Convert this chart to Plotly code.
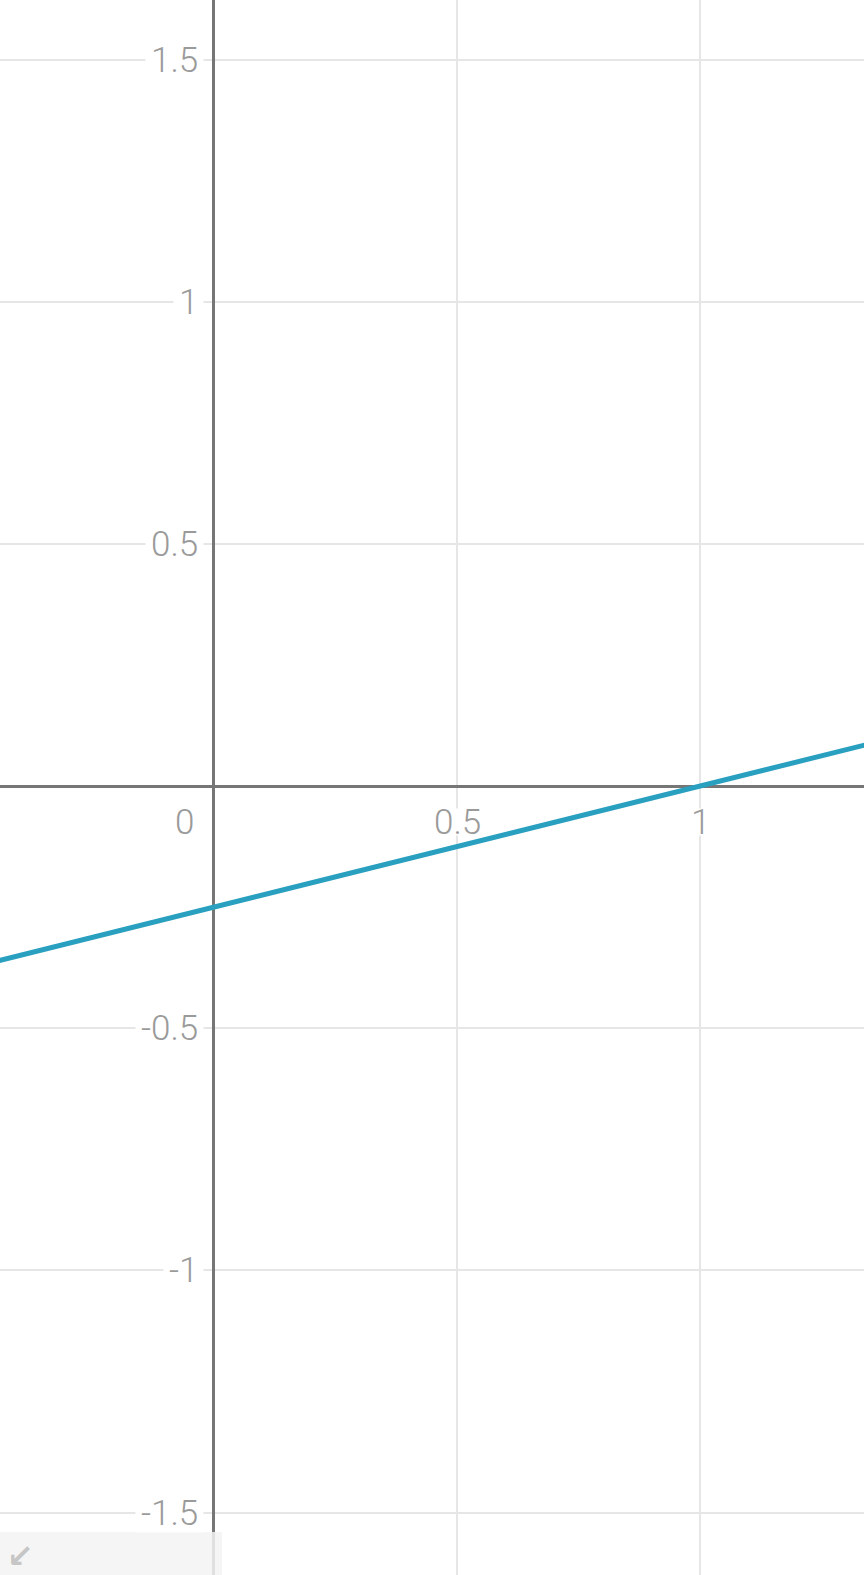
import plotly.graph_objects as go

# Line (passes through (1, 0), crosses y-axis at -0.25)
line_x = [-0.5, 0.0, 1.0, 1.5]
line_y = [-0.375, -0.25, 0.0, 0.125]

# Tick labels
x_tick_vals = [0.5, 1]
x_tick_text = ["0.5", "1"]
y_tick_vals = [1.5, 1, 0.5, -0.5, -1, -1.5]
y_tick_text = ["1.5", "1", "0.5", "-0.5", "-1", "-1.5"]

W, H = 864, 1575
x_range = [-0.440, 1.337]
y_range = [-1.629, 1.623]

LABEL_FONT = dict(family="Roboto, Open Sans, sans-serif", size=35, color="#9a9a9a", weight=300)

fig = go.Figure()
fig.add_trace(go.Scatter(
    x=line_x, y=line_y, mode="lines",
    line=dict(color="#29a0bf", width=5),
    hoverinfo="skip", showlegend=False,
))

annotations = []
for v, t in zip(y_tick_vals, y_tick_text):
    annotations.append(dict(
        x=0, y=v, xref="x", yref="y", text=t, showarrow=False,
        xanchor="right", yanchor="middle", xshift=-10,
        bgcolor="white", borderpad=5, height=28, font=LABEL_FONT,
    ))
for v, t in zip(x_tick_vals, x_tick_text):
    annotations.append(dict(
        x=v, y=0, xref="x", yref="y", text=t, showarrow=False,
        xanchor="center", yanchor="middle", yshift=-36,
        bgcolor="white", borderpad=0, height=26, font=LABEL_FONT,
    ))
annotations.append(dict(
    x=0, y=0, xref="x", yref="y", text="0", showarrow=False,
    xanchor="center", yanchor="middle", xshift=-29, yshift=-36,
    font=LABEL_FONT,
))
# zoom-control icon in the bottom-left corner
annotations.append(dict(
    x=0.006, y=0.0, xref="paper", yref="paper", text="<b>↙</b>", showarrow=False,
    xanchor="left", yanchor="bottom", yshift=-2,
    font=dict(family="DejaVu Sans", size=32, color="#c6c6c6"),
))

fig.update_layout(
    width=W, height=H,
    margin=dict(l=0, r=0, t=0, b=0),
    paper_bgcolor="white", plot_bgcolor="white",
    showlegend=False,
    annotations=annotations,
    shapes=[dict(
        type="rect", xref="paper", yref="paper",
        x0=0, x1=222 / W, y0=0, y1=43 / H,
        fillcolor="rgba(243,243,243,0.85)",
        line=dict(width=0), layer="above",
    )],
)
fig.update_xaxes(
    range=x_range, dtick=0.5, tick0=0,
    showgrid=True, gridcolor="#e6e6e6", gridwidth=1.5,
    zeroline=True, zerolinecolor="#767676", zerolinewidth=3,
    showticklabels=False, ticks="", showline=False, fixedrange=True,
)
fig.update_yaxes(
    range=y_range, dtick=0.5, tick0=0,
    showgrid=True, gridcolor="#e6e6e6", gridwidth=1.5,
    zeroline=True, zerolinecolor="#767676", zerolinewidth=3,
    showticklabels=False, ticks="", showline=False, fixedrange=True,
)

fig.write_html(
    "out.html",
    config={"displayModeBar": False},
    post_script="document.body.style.margin='0px';document.body.style.overflow='hidden';",
)
